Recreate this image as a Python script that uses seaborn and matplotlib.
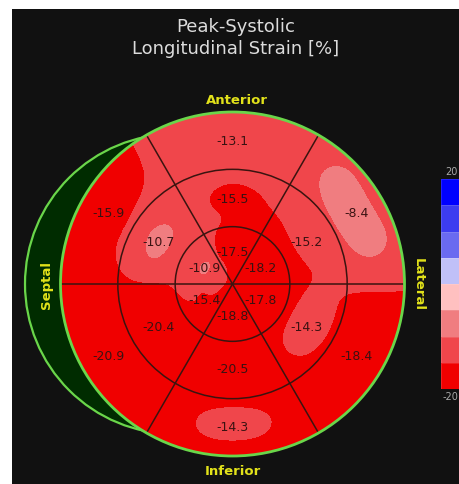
import numpy as np
import matplotlib
matplotlib.use("Agg")
import matplotlib.pyplot as plt
from matplotlib.patches import Circle, Rectangle
from matplotlib.colors import ListedColormap
import seaborn as sns

sns.set_style("dark")
plt.rcParams["font.family"] = ["DejaVu Sans"]

# Peak-systolic longitudinal strain per segment (%), ordered by sector:
# anterior, anterolateral, inferolateral, inferior, inferoseptal, anteroseptal
base_strain = [-13.1, -8.4, -18.4, -14.3, -20.9, -15.9]
mid_strain = [-15.5, -15.2, -14.3, -20.5, -20.4, -10.7]
apex_strain = [-17.5, -18.2, -17.8, -18.8, -15.4, -10.9]
sector_angles = [90, 30, -30, -90, -150, 150]  # degrees, sector centres

wall_labels = ["Anterior", "Lateral", "Inferior", "Septal"]
title_text = "Peak-Systolic\nLongitudinal Strain [%]"

# colour scale swatches (bottom -> top) and the shading bands of the map
scale_levels = [-20, -15, -10, -5, 0, 5, 10, 15, 20]
scale_colors = ["#f00000", "#f0464b", "#f07d80", "#ffc0c0",
                "#c0c0f8", "#6a6af0", "#3c3cf0", "#0000ff"]
shade_levels = [-20, -15.3, -11.0, -5, 0, 5, 10, 15, 20]
scale_tick_labels = ["20", "-20"]

# geometry in pixel space
W, H = 460, 485
CX, CY, R = 232.5, 285.0, 172.0
ring_radii = [R / 3, 2 * R / 3, R]
label_radii = [143, 85, 32]  # base, mid, apex

fig = plt.figure(figsize=(W / 100, H / 100), dpi=100, facecolor="white")
ax = fig.add_axes([0, 0, 1, 1])
ax.set_xlim(0, W)
ax.set_ylim(H, 0)
ax.set_aspect("equal")
ax.axis("off")
ax.add_patch(Rectangle((12, 10), W, H, facecolor="#111111", edgecolor="none", zorder=0))

# septal crescent behind the bullseye
ax.add_patch(Circle((175, CY), 150, facecolor="#002c00", edgecolor="#6ad64a",
                    lw=1.6, zorder=1))

# anchor points (polar) for the smooth field: segment centres ...
a_r, a_t, vals = [], [], []
for ring_vals, rr in zip([base_strain, mid_strain, apex_strain], label_radii):
    for v, ang in zip(ring_vals, sector_angles):
        a_r.append(rr)
        a_t.append(np.deg2rad(ang))
        vals.append(v)
n_seg = len(vals)
# ... plus rim points blending each base segment with its neighbours
base_arr = np.asarray(base_strain)
rim_vals = 0.5 * base_arr + 0.25 * (np.roll(base_arr, 1) + np.roll(base_arr, -1))
rim_vals = np.minimum(rim_vals, base_arr)
for v, ang in zip(rim_vals, sector_angles):
    a_r.append(R)
    a_t.append(np.deg2rad(ang))
    vals.append(v)
a_r, a_t, vals = map(np.asarray, (a_r, a_t, vals))

gx = np.linspace(CX - R - 2, CX + R + 2, 380)
gy = np.linspace(CY - R - 2, CY + R + 2, 380)
X, Y = np.meshgrid(gx, gy)
gr = np.hypot(X - CX, Y - CY)[..., None]
gt = np.arctan2(-(Y - CY), X - CX)[..., None]
dt = np.angle(np.exp(1j * (gt - a_t)))
k_tan = 0.6
d2 = (gr - a_r) ** 2 + (k_tan * 0.5 * (gr + a_r) * dt) ** 2 + 1e-6
w = 1.0 / d2 ** 1.5
Z = (w * vals).sum(-1) / w.sum(-1)
Z = np.clip(Z, -19.99, 19.99)

disc = Circle((CX, CY), R, transform=ax.transData)
cs = ax.contourf(X, Y, Z, levels=shade_levels, colors=scale_colors, zorder=2)
cs.set_clip_path(disc)

# segment grid
for rr in ring_radii[:2]:
    ax.add_patch(Circle((CX, CY), rr, facecolor="none", edgecolor="#3a1410",
                        lw=1.1, zorder=3))
for ang in [0, 60, 120]:
    t = np.deg2rad(ang)
    ax.plot([CX - R * np.cos(t), CX + R * np.cos(t)],
            [CY + R * np.sin(t), CY - R * np.sin(t)],
            color="#3a1410", lw=1.1, zorder=3)
ax.add_patch(Circle((CX, CY), R, facecolor="none", edgecolor="#6ad64a",
                    lw=2.0, zorder=4))

# segment values
lx = CX + a_r[:n_seg] * np.cos(a_t[:n_seg])
ly = CY - a_r[:n_seg] * np.sin(a_t[:n_seg])
for xp, yp, v in zip(lx, ly, vals[:n_seg]):
    ax.text(xp, yp, f"{v:.1f}", ha="center", va="center", fontsize=9,
            color="#3a1212", zorder=5)

# wall labels
yellow = "#e2e21a"
ax.text(CX + 4, 101, wall_labels[0], ha="center", va="center", fontsize=9.5,
        fontweight="bold", color=yellow)
ax.text(418, CY, wall_labels[1], ha="center", va="center", fontsize=9.5,
        fontweight="bold", color=yellow, rotation=270)
ax.text(CX, 472, wall_labels[2], ha="center", va="center", fontsize=9.5,
        fontweight="bold", color=yellow)
ax.text(47, CY, wall_labels[3], ha="center", va="center", fontsize=9.5,
        fontweight="bold", color=yellow, rotation=90)

ax.text(236, 38, title_text, ha="center", va="center", fontsize=13,
        color="#dcdcdc", linespacing=1.25)

# colour scale drawn as a one-column heatmap
mids = np.array([(a + b) / 2 for a, b in zip(scale_levels[:-1], scale_levels[1:])])
cax = fig.add_axes([441 / W, (H - 390) / H, 25 / W, 210 / H])
sns.heatmap(mids[::-1].reshape(-1, 1), cmap=ListedColormap(scale_colors),
            vmin=scale_levels[0], vmax=scale_levels[-1], cbar=False,
            xticklabels=False, yticklabels=False, linewidths=0.4,
            linecolor="#ffffff22", ax=cax)
cax.set_xlabel("")
cax.set_ylabel("")
ax.text(451, 172, scale_tick_labels[0], ha="center", va="center", fontsize=7,
        color="#aaaaaa")
ax.text(450, 397, scale_tick_labels[1], ha="center", va="center", fontsize=7,
        color="#aaaaaa")

fig.savefig("out.png", dpi=100, facecolor=fig.get_facecolor())
